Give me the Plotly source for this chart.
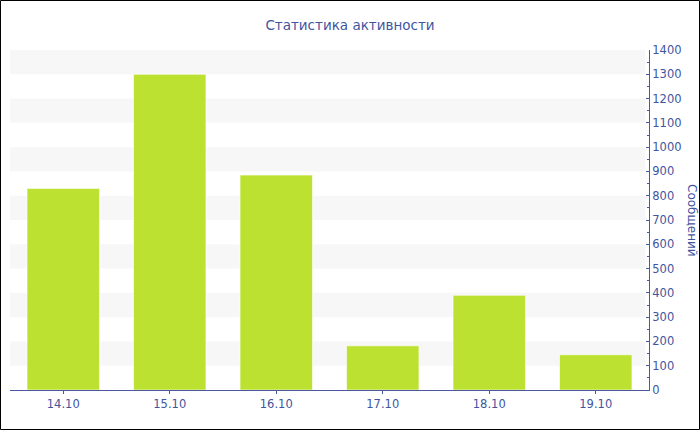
import plotly.graph_objects as go

categories = ["14.10", "15.10", "16.10", "17.10", "18.10", "19.10"]
messages = [830, 1300, 885, 182, 390, 145]
y_ticks = list(range(0, 1401, 100))
band_starts = [100, 300, 500, 700, 900, 1100, 1300]

AXIS_COLOR = "#4a5a9c"
TEXT_COLOR = "#3f55a0"
FONT = "DejaVu Sans"

fig = go.Figure()
fig.add_trace(go.Bar(
    x=categories, y=messages,
    marker=dict(color="#bce131", line=dict(color="rgba(255,255,255,0.6)", width=1)),
    width=0.68,
    hoverinfo="x+y",
))

shapes = []
for b in band_starts:
    shapes.append(dict(type="rect", xref="paper", yref="y", x0=0, x1=0.994, y0=b, y1=b + 100,
                       fillcolor="#f7f7f7", line=dict(width=0), layer="below"))

# outer border
L, R, T, B = 10, 51, 50, 40
W, H = 700, 430
pw, ph = W - L - R, H - T - B
shapes.append(dict(type="rect", xref="paper", yref="paper",
                   x0=(0.5 - L) / pw, x1=(W - 0.5 - L) / pw,
                   y0=(H - B - (H - 0.5)) / ph, y1=(H - B - 0.5) / ph,
                   line=dict(color="black", width=1), fillcolor="rgba(0,0,0,0)", layer="above"))

fig.update_layout(
    width=W, height=H,
    margin=dict(l=L, r=R, t=T, b=B),
    paper_bgcolor="white", plot_bgcolor="white",
    font=dict(family=FONT, color=TEXT_COLOR, size=11),
    title=dict(text="Статистика активности", x=0.5, xref="container", xanchor="center",
               y=1 - 25 / H, yanchor="middle", font=dict(size=13.5, color=TEXT_COLOR, family=FONT)),
    showlegend=False,
    shapes=shapes,
    bargap=0.33,
    xaxis=dict(
        showline=True, linecolor=AXIS_COLOR, linewidth=1,
        ticks="outside", ticklen=3, tickcolor=AXIS_COLOR,
        showgrid=False, tickfont=dict(size=11.5, color=TEXT_COLOR),
    ),
    yaxis=dict(
        side="right", range=[0, 1400], tickvals=y_ticks,
        showline=True, linecolor=AXIS_COLOR, linewidth=1,
        ticks="inside", ticklen=3, tickcolor=AXIS_COLOR,
        minor=dict(ticks="inside", ticklen=2, dtick=50, tickcolor=AXIS_COLOR, showgrid=False),
        showgrid=False, zeroline=False,
        tickfont=dict(size=11.5, color=TEXT_COLOR),
    ),
    annotations=[dict(text="Сообщений", textangle=90, xref="paper", yref="paper",
                      x=(692 - L) / pw, y=0.5, xanchor="center", yanchor="middle",
                      showarrow=False, font=dict(size=12, color=TEXT_COLOR, family=FONT))],
)

fig.write_html("out.html", config={"displayModeBar": False},
               post_script="document.body.style.margin='0';document.body.style.overflow='hidden';")
